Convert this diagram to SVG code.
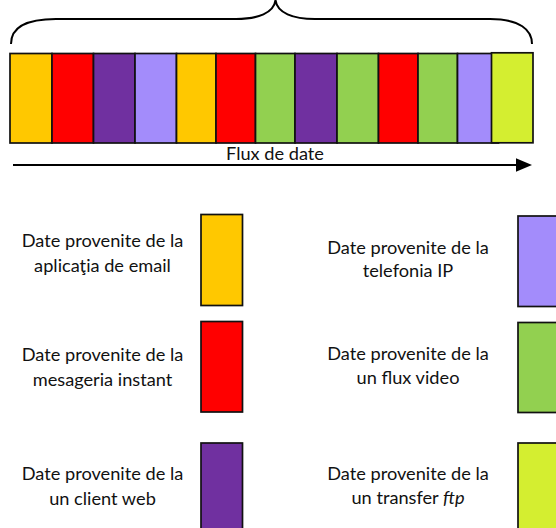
<svg xmlns="http://www.w3.org/2000/svg" width="556" height="528" viewBox="0 0 556 528">
  <style>
    .blk { stroke: #111; stroke-width: 1.7; }
    .yellow { fill: #FFC800; }
    .red { fill: #FF0000; }
    .purple { fill: #7030A0; }
    .lilac { fill: #A38CFB; }
    .green { fill: #92D050; }
    .lime { fill: #D4EE30; }
    .lbl { font-family: Lato, "Open Sans", sans-serif; font-size: 18.2px; fill: #111; text-anchor: middle; }
    .line { fill: none; stroke: #000; stroke-width: 2; }
  </style>
  <rect width="556" height="528" fill="#fff"/>

  <!-- packet stream -->
  <g id="stream">
    <rect class="blk yellow" x="10" y="53.5" width="42" height="89.5"/>
    <rect class="blk red" x="52" y="53.5" width="41.5" height="89.5"/>
    <rect class="blk purple" x="93.5" y="53.5" width="41.5" height="89.5"/>
    <rect class="blk lilac" x="135" y="53.5" width="41.5" height="89.5"/>
    <rect class="blk yellow" x="176.5" y="53.5" width="39.5" height="89.5"/>
    <rect class="blk red" x="216" y="53.5" width="39.5" height="89.5"/>
    <rect class="blk green" x="255.5" y="53.5" width="39.5" height="89.5"/>
    <rect class="blk purple" x="295" y="53.5" width="42" height="89.5"/>
    <rect class="blk green" x="337" y="53.5" width="41.5" height="89.5"/>
    <rect class="blk red" x="378.5" y="53.5" width="39.5" height="89.5"/>
    <rect class="blk green" x="418" y="53.5" width="39.5" height="89.5"/>
    <rect class="blk lilac" x="457.5" y="53.5" width="41" height="89.5"/>
    <rect class="blk lime" x="491.5" y="52.8" width="41.5" height="90"/>
  </g>

  <g id="connectors">
    <!-- brace over the stream -->
    <path class="line" d="M11,44 C11,28 26,19 56,19 L236,19 C258,19 274,13 275.5,0 C277,13 293,19 315,19 L490,19 C520,19 532,30 532,44"/>
    <!-- direction of flow -->
    <line class="line" x1="13" y1="165" x2="518" y2="165"/>
    <polygon points="516,158.3 532,165 516,171.7" fill="#000"/>
  </g>
  <text class="lbl" x="275" y="160" font-size="18.8">Flux de date</text>

  <!-- legend, left column -->
  <g id="legend-email">
    <text class="lbl" x="102.5" y="247">Date provenite de la</text>
    <text class="lbl" x="102.5" y="271.5">aplicaţia de email</text>
    <rect class="blk yellow" x="201" y="214.5" width="41.5" height="91"/>
  </g>
  <g id="legend-im">
    <text class="lbl" x="102.5" y="361">Date provenite de la</text>
    <text class="lbl" x="102.5" y="385.5">mesageria instant</text>
    <rect class="blk red" x="201" y="321.5" width="41.5" height="90.5"/>
  </g>
  <g id="legend-web">
    <text class="lbl" x="102.5" y="480">Date provenite de la</text>
    <text class="lbl" x="102.5" y="504.5">un client web</text>
    <rect class="blk purple" x="201" y="443" width="41.5" height="90"/>
  </g>

  <!-- legend, right column -->
  <g id="legend-voip">
    <text class="lbl" x="408" y="253.5">Date provenite de la</text>
    <text class="lbl" x="408" y="277">telefonia IP</text>
    <rect class="blk lilac" x="518" y="216" width="45" height="90.5"/>
  </g>
  <g id="legend-video">
    <text class="lbl" x="408" y="360">Date provenite de la</text>
    <text class="lbl" x="408" y="384">un flux video</text>
    <rect class="blk green" x="518" y="322.5" width="45" height="90"/>
  </g>
  <g id="legend-ftp">
    <text class="lbl" x="408" y="480">Date provenite de la</text>
    <text class="lbl" x="408" y="503.5">un transfer <tspan font-style="italic">ftp</tspan></text>
    <rect class="blk lime" x="518" y="443" width="45" height="90"/>
  </g>
</svg>
